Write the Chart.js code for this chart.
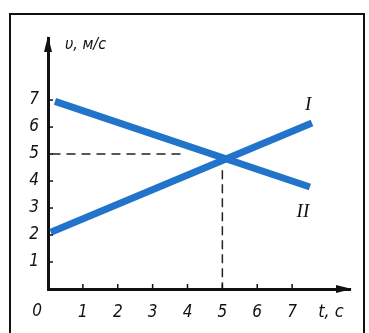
<!DOCTYPE html>
<html>
<head>
<meta charset="utf-8">
<script src="https://cdn.jsdelivr.net/npm/chart.js@4/dist/chart.umd.min.js"></script>
<style>
html,body{margin:0;padding:0;background:#fff;}
#wrap{width:369px;height:333px;position:relative;}
</style>
</head>
<body>
<div id="wrap"><canvas id="c" width="369" height="333"></canvas></div>
<script>
// Data
const lineI_t = [0.08, 7.57];
const lineI_v = [2.1, 6.15];
const lineII_t = [0.2, 7.51];
const lineII_v = [6.95, 3.78];
const dashH_t = [0.1, 3.85];
const dashH_v = [5, 5];
const dashV_t = [5, 5];
const dashV_v = [4.4, 0];
const tickValues = [1, 2, 3, 4, 5, 6, 7];
const lineLabels = ['I', 'II'];
const lineLabel_t = [7.46, 7.31];
const lineLabel_v = [6.8, 2.85];
const yTitle = 'υ, м/с';
const xTitle = 't, с';
const originLabel = '0';

const BLUE = 'rgb(34,116,202)';
const FAM = '"DejaVu Sans Condensed", "DejaVu Sans"';

function pts(xs, ys){ return xs.map((x,i)=>({x:x, y:ys[i]})); }

const deco = {
  id:'deco',
  afterDraw(chart){
    const ctx = chart.ctx, xs = chart.scales.x, ys = chart.scales.y, a = chart.chartArea;
    ctx.save();
    // frame
    ctx.strokeStyle = '#111'; ctx.lineWidth = 2;
    ctx.strokeRect(10, 14, 354, 330);
    const x0 = xs.getPixelForValue(0), y0 = ys.getPixelForValue(0);
    // inner tick marks
    ctx.lineWidth = 1.5; ctx.strokeStyle = '#111';
    tickValues.forEach(v=>{
      const py = ys.getPixelForValue(v);
      ctx.beginPath(); ctx.moveTo(x0, py); ctx.lineTo(x0+5, py); ctx.stroke();
      const px = xs.getPixelForValue(v);
      ctx.beginPath(); ctx.moveTo(px, y0); ctx.lineTo(px, y0-5); ctx.stroke();
    });
    // arrows
    ctx.fillStyle = '#111';
    ctx.beginPath(); ctx.moveTo(x0, a.top-2); ctx.lineTo(x0-4, a.top+14); ctx.lineTo(x0+4, a.top+14); ctx.closePath(); ctx.fill();
    ctx.beginPath(); ctx.moveTo(a.right+2, y0); ctx.lineTo(a.right-14, y0-4); ctx.lineTo(a.right-14, y0+4); ctx.closePath(); ctx.fill();
    // texts
    ctx.fillStyle = '#111';
    ctx.font = 'italic 16px ' + FAM;
    ctx.textBaseline = 'middle'; ctx.textAlign = 'left';
    ctx.fillText(yTitle, x0+17, a.top+7);
    ctx.font = 'italic 17px ' + FAM;
    ctx.textAlign = 'center';
    ctx.fillText(originLabel, x0-11, y0+23);
    ctx.font = 'italic 18px ' + FAM;
    ctx.fillText(xTitle, a.right-19, y0+23);
    ctx.font = 'italic 19px "Liberation Serif"';
    lineLabels.forEach((t,i)=>{
      ctx.fillText(t, xs.getPixelForValue(lineLabel_t[i]), ys.getPixelForValue(lineLabel_v[i]));
    });
    ctx.restore();
  }
};

const tickFont = {family:FAM, style:'italic', size:17};

new Chart(document.getElementById('c'), {
  type: 'scatter',
  data: {
    datasets: [
      {data: pts(lineI_t, lineI_v), showLine:true, borderColor:BLUE, borderWidth:7, pointRadius:0},
      {data: pts(lineII_t, lineII_v), showLine:true, borderColor:BLUE, borderWidth:7, pointRadius:0},
      {data: pts(dashH_t, dashH_v), showLine:true, borderColor:'#222', borderWidth:1.5, borderDash:[9,6], pointRadius:0},
      {data: pts(dashV_t, dashV_v), showLine:true, borderColor:'#222', borderWidth:1.5, borderDash:[9,5], pointRadius:0}
    ]
  },
  options: {
    responsive:false, animation:false,
    layout:{padding:{top:38, right:19, left:0, bottom:0}},
    plugins:{legend:{display:false}, tooltip:{enabled:false}},
    scales:{
      x:{type:'linear', min:0, max:8.66,
        afterFit(s){ s.height = 44; },
        grid:{display:false, drawTicks:false},
        border:{display:true, color:'#111', width:3},
        ticks:{stepSize:1, padding:13, color:'#111', font:tickFont,
          autoSkip:false, maxRotation:0,
          callback:(v)=> tickValues.includes(v) ? String(v) : ''}
      },
      y:{type:'linear', min:0, max:9.3,
        afterFit(s){ s.width = 48; },
        grid:{display:false, drawTicks:false},
        border:{display:true, color:'#111', width:3},
        ticks:{stepSize:1, padding:9, color:'#111', font:tickFont,
          autoSkip:false,
          callback:(v)=> tickValues.includes(v) ? String(v) : ''}
      }
    }
  },
  plugins:[deco]
});
</script>
</body>
</html>
